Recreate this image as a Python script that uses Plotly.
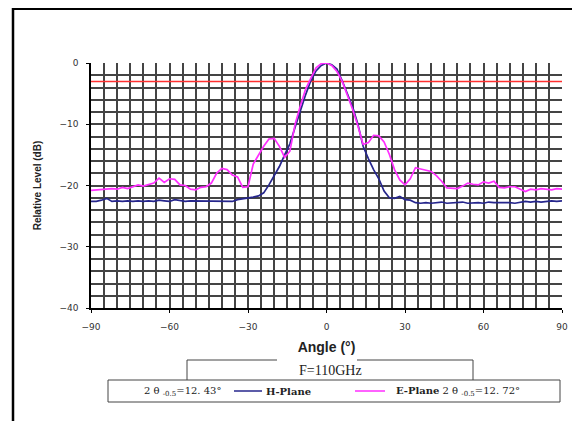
import plotly.graph_objects as go

angles = list(range(-90, 91, 2))

h_plane = [
    -22.6, -22.6, -22.4, -22.1, -22.6, -22.5, -22.6, -22.5, -22.6, -22.5,
    -22.6, -22.5, -22.6, -22.4, -22.5, -22.6, -22.3, -22.5, -22.6, -22.5,
    -22.5, -22.6, -22.5, -22.6, -22.5, -22.6, -22.5, -22.6, -22.3, -22.2,
    -22.0, -21.9, -21.7, -21.2, -19.9, -18.4, -16.9, -15.0, -13.2, -10.5,
    -7.7, -5.2, -2.9, -1.3, -0.4, 0.0, -0.3, -1.0, -2.9, -4.9,
    -7.2, -10.0, -13.6, -15.6, -17.4, -18.9, -20.9, -22.0, -22.1, -21.8,
    -22.3, -22.4, -22.8, -22.9, -22.8, -22.9, -22.8, -22.7, -22.9, -22.8,
    -22.8, -22.7, -22.9, -22.8, -22.8, -22.9, -22.7, -22.8, -22.8, -22.7,
    -22.8, -22.9, -22.7, -22.6, -22.7, -22.6, -22.7, -22.6, -22.5, -22.6,
    -22.5,
]

e_plane = [
    -20.8, -20.7, -20.6, -20.6, -20.5, -20.6, -20.3, -20.5, -20.2, -19.9,
    -20.1, -19.9, -19.6, -18.8, -19.5, -18.9, -19.0, -19.9, -20.0, -20.6,
    -20.7, -20.3, -20.2, -19.6, -18.0, -17.2, -17.4, -18.3, -18.6, -20.3,
    -20.2, -16.5, -15.0, -13.6, -12.4, -12.3, -13.6, -15.4, -14.4, -10.0,
    -7.0, -4.3, -2.5, -0.8, -0.1, 0.0, -0.4, -1.4, -3.0, -5.2,
    -7.6, -10.3, -13.3, -13.0, -11.8, -11.9, -12.9, -14.9, -17.4, -19.1,
    -19.9, -18.9, -17.1, -17.3, -17.5, -17.7, -18.4, -19.3, -20.4, -20.5,
    -20.5, -20.1, -19.6, -19.8, -19.9, -19.4, -19.6, -19.3, -20.3, -20.4,
    -20.2, -20.2, -20.6, -21.0, -20.6, -20.7, -20.5, -20.6, -20.7, -20.5,
    -20.6,
]

ref_angles = [-90, 90]
ref_level = [-3, -3]

x_ticks = [-90, -60, -30, 0, 30, 60, 90]
y_ticks = [0, -10, -20, -30, -40]

OFF = 8  # page body margin offset
W, H = 580 - OFF, 421 - OFF
L, R, T, B = 91 - OFF, 18, 63 - OFF, 113
pw, ph = W - L - R, H - T - B


def px(x):
    return (x - OFF - L) / pw


def py(y):
    return (H - B - (y - OFF)) / ph


H_COL = "#26268C"
E_COL = "#FF2EFF"

fig = go.Figure()
fig.add_trace(go.Scatter(x=ref_angles, y=ref_level, mode="lines",
                         line=dict(color="#FF3030", width=1.5), showlegend=False))
fig.add_trace(go.Scatter(x=angles, y=h_plane, mode="lines", name="H-Plane",
                         line=dict(color=H_COL, width=1.7), showlegend=False))
fig.add_trace(go.Scatter(x=angles, y=e_plane, mode="lines", name="E-Plane",
                         line=dict(color=E_COL, width=1.7), showlegend=False))

grid_col = "#444444"
fig.update_xaxes(range=[-90, 90], tickvals=x_ticks, showgrid=True, gridcolor=grid_col,
                 gridwidth=1.6, zeroline=False, showline=True, linecolor="black", linewidth=1.5,
                 ticks="outside", ticklen=3, tickcolor="black", ticklabelstandoff=6,
                 tickfont=dict(family="DejaVu Sans", size=9, color="#333333"),
                 minor=dict(dtick=5, showgrid=True, gridcolor=grid_col, gridwidth=1.6),
                 title=dict(text="<b>Angle (°)</b>", font=dict(family="Liberation Sans", size=14, color="#222"),
                            standoff=12))
fig.update_yaxes(range=[-40, 0], tickvals=y_ticks, showgrid=True, gridcolor=grid_col,
                 gridwidth=1.6, zeroline=False, showline=True, linecolor="black", linewidth=1.5,
                 ticks="outside", ticklen=3, tickcolor="black", ticklabelstandoff=6,
                 tickfont=dict(family="DejaVu Sans", size=9, color="#333333"),
                 minor=dict(dtick=2, showgrid=True, gridcolor=grid_col, gridwidth=1.6),
                 title=dict(text="<b>Relative Level (dB)</b>", font=dict(family="Liberation Sans", size=10, color="#222"),
                            standoff=16))

box_col = "#444444"
shapes = [
    # page frame: top and left edges only
    dict(type="line", xref="paper", yref="paper", x0=px(12), x1=px(580), y0=py(9), y1=py(9),
         line=dict(color="black", width=2.2)),
    dict(type="line", xref="paper", yref="paper", x0=px(13), x1=px(13), y0=py(8), y1=py(421),
         line=dict(color="black", width=2.5)),
    # F box
    dict(type="line", xref="paper", yref="paper", x0=px(187), x1=px(277), y0=py(360), y1=py(360),
         line=dict(color=box_col, width=1)),
    dict(type="line", xref="paper", yref="paper", x0=px(357), x1=px(473), y0=py(360), y1=py(360),
         line=dict(color=box_col, width=1)),
    dict(type="line", xref="paper", yref="paper", x0=px(187), x1=px(187), y0=py(360), y1=py(380),
         line=dict(color=box_col, width=1)),
    dict(type="line", xref="paper", yref="paper", x0=px(473), x1=px(473), y0=py(360), y1=py(380),
         line=dict(color=box_col, width=1)),
    # legend box
    dict(type="rect", xref="paper", yref="paper", x0=px(108), x1=px(560), y0=py(402), y1=py(380),
         line=dict(color=box_col, width=1)),
    dict(type="line", xref="paper", yref="paper", x0=px(234), x1=px(262), y0=py(391), y1=py(391),
         line=dict(color=H_COL, width=1.5)),
    dict(type="line", xref="paper", yref="paper", x0=px(355), x1=px(385), y0=py(391), y1=py(391),
         line=dict(color=E_COL, width=1.5)),
]

serif = "DejaVu Serif"
annotations = [
    dict(x=px(330), y=py(370), xref="paper", yref="paper", yanchor="middle", text="F=110GHz",
         showarrow=False, font=dict(family="Liberation Serif", size=14, color="#222")),
    dict(x=px(142), y=py(391), xref="paper", yref="paper", xanchor="left", yanchor="middle",
         text="2 θ <sub>-0.5</sub>=12. 43°", showarrow=False,
         font=dict(family=serif, size=10, color="#222")),
    dict(x=px(264), y=py(391), xref="paper", yref="paper", xanchor="left", yanchor="middle",
         text="<b>H-Plane</b>", showarrow=False,
         font=dict(family=serif, size=10, color="#222")),
    dict(x=px(394), y=py(391), xref="paper", yref="paper", xanchor="left", yanchor="middle",
         text="<b>E-Plane</b> 2 θ <sub>-0.5</sub>=12. 72°", showarrow=False,
         font=dict(family=serif, size=10, color="#222")),
]

fig.update_layout(width=W, height=H, margin=dict(l=L, r=R, t=T, b=B),
                  paper_bgcolor="white", plot_bgcolor="white",
                  shapes=shapes, annotations=annotations, showlegend=False)

fig.write_html("out.html")
